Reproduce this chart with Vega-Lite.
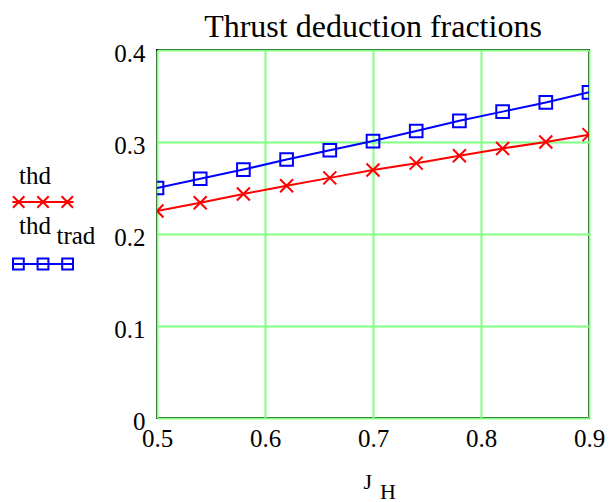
{
  "$schema": "https://vega.github.io/schema/vega-lite/v6.json",
  "width": 432,
  "height": 368,
  "autosize": {"type": "none"},
  "padding": {"left": 157, "top": 50, "right": 22, "bottom": 84},
  "background": "white",
  "title": {"text": "Thrust deduction fractions", "font": "Liberation Serif", "fontSize": 32, "fontWeight": "normal", "color": "black", "baseline": "alphabetic", "offset": -28, "anchor": "middle"},
  "config": {"view": {"stroke": "black", "strokeWidth": 2}, "font": "Liberation Serif"},
  "data": {"values": [
    {"J": 0.50, "series": "thd", "value": 0.225},
    {"J": 0.54, "series": "thd", "value": 0.234},
    {"J": 0.58, "series": "thd", "value": 0.2435},
    {"J": 0.62, "series": "thd", "value": 0.2525},
    {"J": 0.66, "series": "thd", "value": 0.261},
    {"J": 0.70, "series": "thd", "value": 0.2695},
    {"J": 0.74, "series": "thd", "value": 0.277},
    {"J": 0.78, "series": "thd", "value": 0.285},
    {"J": 0.82, "series": "thd", "value": 0.293},
    {"J": 0.86, "series": "thd", "value": 0.300},
    {"J": 0.90, "series": "thd", "value": 0.308},
    {"J": 0.50, "series": "thd_trad", "value": 0.250},
    {"J": 0.54, "series": "thd_trad", "value": 0.260},
    {"J": 0.58, "series": "thd_trad", "value": 0.270},
    {"J": 0.62, "series": "thd_trad", "value": 0.281},
    {"J": 0.66, "series": "thd_trad", "value": 0.291},
    {"J": 0.70, "series": "thd_trad", "value": 0.301},
    {"J": 0.74, "series": "thd_trad", "value": 0.312},
    {"J": 0.78, "series": "thd_trad", "value": 0.323},
    {"J": 0.82, "series": "thd_trad", "value": 0.333},
    {"J": 0.86, "series": "thd_trad", "value": 0.343},
    {"J": 0.90, "series": "thd_trad", "value": 0.354}
  ]},
  "encoding": {
    "x": {"field": "J", "type": "quantitative",
      "scale": {"domain": [0.5, 0.9], "nice": false, "zero": false},
      "axis": {"values": [0.5, 0.6, 0.7, 0.8, 0.9], "format": "~g", "domain": false, "ticks": false, "tickSize": 0,
        "grid": true, "gridColor": "#80ff80", "gridWidth": 2, "gridOpacity": 1,
        "labelFont": "Liberation Serif", "labelFontSize": 25, "labelColor": "black", "labelPadding": 8, "labelFlush": false,
        "title": ["J", "\u200b\u00a0\u00a0\u00a0H"], "titleFont": "Liberation Serif", "titleFontSize": 22, "titleFontWeight": "normal", "titleColor": "black",
        "titleAlign": "left", "titleBaseline": "alphabetic", "titleX": 206, "titleY": 70, "titleLineHeight": 10}},
    "y": {"field": "value", "type": "quantitative",
      "scale": {"domain": [0, 0.4], "nice": false, "zero": false},
      "axis": {"values": [0, 0.1, 0.2, 0.3, 0.4], "format": "~g", "domain": false, "ticks": false, "tickSize": 0,
        "grid": true, "gridColor": "#80ff80", "gridWidth": 2, "gridOpacity": 1,
        "labelFont": "Liberation Serif", "labelFontSize": 25, "labelColor": "black", "labelPadding": 12, "labelOffset": 3, "labelFlush": false,
        "title": null}},
    "color": {"field": "series", "type": "nominal",
      "scale": {"domain": ["thd", "thd_trad"], "range": ["#ff0000", "#0000ff"]},
      "legend": {"orient": "none", "legendX": -145, "legendY": 121, "title": null, "padding": 0, "rowPadding": 2,
        "symbolSize": 3600, "labelOffset": -55, "labelFontSize": 25, "labelFont": "Liberation Serif", "labelColor": "black",
        "labelBaseline": "alphabetic", "labelLimit": 300,
        "labelExpr": "datum.label === 'thd' ? 'thd' : ['thd', '\u200b\u00a0\u00a0\u00a0\u00a0\u00a0\u00a0trad']",
        "encode": {
          "symbols": {"update": {
            "shape": {"signal": "datum.value === 'thd' ? 'M-1.02,0H1.02M-1,-0.19L-0.62,0.19M-1,0.19L-0.62,-0.19M-0.19,-0.19L0.19,0.19M-0.19,0.19L0.19,-0.19M0.62,-0.19L1,0.19M0.62,0.19L1,-0.19' : 'M-1.02,0H1.02M-1,-0.18H-0.64V0.18H-1ZM-0.18,-0.18H0.18V0.18H-0.18ZM0.64,-0.18H1V0.18H0.64Z'"},
            "fill": {"value": "transparent"},
            "stroke": {"signal": "datum.value === 'thd' ? '#ff0000' : '#0000ff'"},
            "strokeWidth": {"value": 2},
            "opacity": {"value": 1},
            "size": {"value": 3600}
          }},
          "labels": {"update": {
            "dy": {"signal": "datum.value === 'thd' ? -18 : -30"},
            "lineHeight": {"value": 10}
          }}
        }}}
  },
  "layer": [
    {"mark": {"type": "line", "strokeWidth": 2, "clip": true}},
    {"transform": [{"filter": "datum.series === 'thd'"}],
     "mark": {"type": "point", "shape": "M-1,-1L1,1M-1,1L1,-1", "size": 169, "strokeWidth": 2, "filled": false, "opacity": 1, "clip": true}},
    {"transform": [{"filter": "datum.series === 'thd_trad'"}],
     "mark": {"type": "point", "shape": "square", "size": 160, "strokeWidth": 2, "filled": false, "opacity": 1, "clip": true}}
  ]
}
